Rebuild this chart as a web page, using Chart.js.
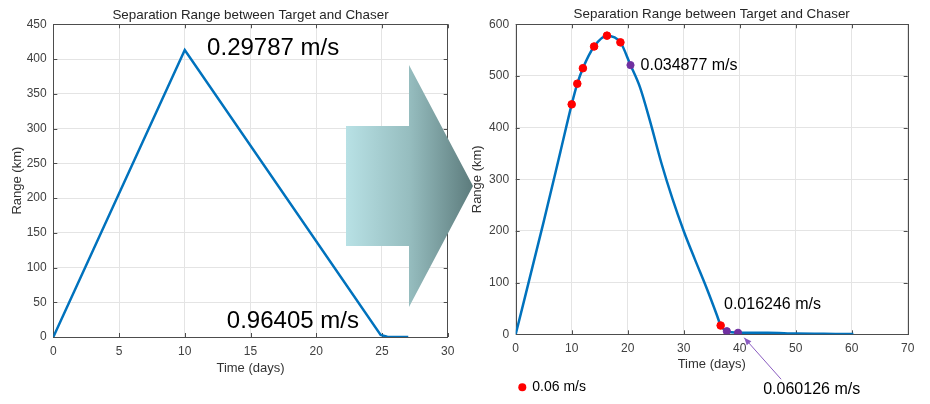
<!DOCTYPE html>
<html>
<head>
<meta charset="utf-8">
<script src="https://cdn.jsdelivr.net/npm/chart.js@4"></script>
<style>
  html, body { margin: 0; padding: 0; background: #fff; }
  #wrap  { position: relative; width: 930px; height: 404px; overflow: hidden; }
  #left  { position: absolute; left: 0;     top: 0; width: 470px; height: 404px; }
  #right { position: absolute; left: 465px; top: 0; width: 465px; height: 404px; }
  #arrow { position: absolute; left: 0; top: 0; pointer-events: none; }
</style>
</head>
<body>
<div id="wrap">
  <div id="left"><canvas id="chart-left"></canvas></div>
  <div id="right"><canvas id="chart-right"></canvas></div>
  <!-- flecha decorativa entre las dos gráficas -->
  <svg id="arrow" width="930" height="404">
    <defs>
      <linearGradient id="arrowGrad" x1="346" y1="0" x2="473" y2="0" gradientUnits="userSpaceOnUse">
        <stop offset="0"   stop-color="#b8e1e5"/>
        <stop offset="0.5" stop-color="#96bdbf"/>
        <stop offset="1"   stop-color="#5c7b7c"/>
      </linearGradient>
    </defs>
    <polygon fill="url(#arrowGrad)"
      points="346,126 409,126 409,65 473,186 409,307 409,246 346,246"/>
  </svg>
</div>

<script>
// ============================================================
//  Separation Range between Target and Chaser
//  - izquierda: transferencia en línea recta
//  - derecha: trayectoria con maniobras (puntos rojos / morados)
// ============================================================

// ---- Gráfica izquierda ----
const leftDays   = [0, 10, 24.9, 25.4, 26, 27];
const leftRange  = [0, 413, 3, 0.5, 0, 0];
const leftXTicks = [0, 5, 10, 15, 20, 25, 30];
const leftYTicks = [0, 50, 100, 150, 200, 250, 300, 350, 400, 450];
const leftNoteText = ['0.29787 m/s', '0.96405 m/s'];
const leftNoteDay  = [11.7, 13.2];
const leftNoteKm   = [415, 22];

// ---- Gráfica derecha ----
const rightDays  = [0, 5, 8, 10, 11, 12, 14, 16.3, 18.7, 20.5, 22.2, 24, 26, 28, 30, 32, 34, 36, 36.6, 37.7, 39.7, 45, 50, 55, 60.3];
const rightRange = [0, 218, 354, 445, 485, 515, 557, 578, 565, 521, 478, 412, 332, 262, 200, 145, 92, 35, 17, 6, 3, 3, 1.5, 1, 0.5];
const redDays    = [10, 11, 12, 14, 16.3, 18.7, 36.6];
const redRange   = [445, 485, 515, 557, 578, 565, 17];
const purpleDays  = [20.5, 37.7, 39.7];
const purpleRange = [521, 6, 3];
const rightXTicks = [0, 10, 20, 30, 40, 50, 60, 70];
const rightYTicks = [0, 100, 200, 300, 400, 500, 600];
const rightNoteText = ['0.034877 m/s', '0.016246 m/s', '0.060126 m/s'];
const rightNoteDay  = [22.3, 37.2, 44.2];
const rightNoteKm   = [520, 58, -107];

const AZUL   = '#0072BD';
const ROJO   = '#ff0000';
const MORADO = '#7030a0';

Chart.defaults.font.family = "'Liberation Sans', Arial, Helvetica, sans-serif";
Chart.defaults.animation = false;

const xy = (xs, ys) => xs.map((x, i) => ({ x, y: ys[i] }));

// caja del eje + marcas hacia adentro (estilo MATLAB)
const boxPlugin = {
  id: 'caja',
  beforeDatasetsDraw(chart) {
    const { ctx, chartArea: a, scales: { x, y } } = chart;
    ctx.save();
    ctx.strokeStyle = '#4d4d4d';
    ctx.lineWidth = 1;
    ctx.strokeRect(Math.round(a.left) + 0.5, Math.round(a.top) + 0.5,
                   Math.round(a.width), Math.round(a.height));
    ctx.beginPath();
    x.ticks.forEach(t => {
      const px = Math.round(x.getPixelForValue(t.value)) + 0.5;
      ctx.moveTo(px, a.bottom); ctx.lineTo(px, a.bottom - 4);
      ctx.moveTo(px, a.top);    ctx.lineTo(px, a.top + 4);
    });
    y.ticks.forEach(t => {
      const py = Math.round(y.getPixelForValue(t.value)) + 0.5;
      ctx.moveTo(a.left, py);  ctx.lineTo(a.left + 4, py);
      ctx.moveTo(a.right, py); ctx.lineTo(a.right - 4, py);
    });
    ctx.stroke();
    ctx.restore();
  }
};

// textos de velocidad, flecha morada y leyenda del punto rojo
const notesPlugin = {
  id: 'notas',
  afterDraw(chart, args, opts) {
    const { ctx, chartArea: a, scales: { x, y } } = chart;
    ctx.save();
    ctx.fillStyle = '#000';
    ctx.textAlign = 'left';
    ctx.textBaseline = 'middle';
    ctx.font = opts.size + "px 'Liberation Sans', Arial, sans-serif";
    opts.texts.forEach((t, i) => {
      ctx.fillText(t, x.getPixelForValue(opts.days[i]), y.getPixelForValue(opts.kms[i]));
    });

    if (opts.arrow) {
      const x0 = x.getPixelForValue(opts.arrow[0]), y0 = y.getPixelForValue(opts.arrow[1]);
      const x1 = x.getPixelForValue(opts.arrow[2]), y1 = y.getPixelForValue(opts.arrow[3]);
      const ang = Math.atan2(y1 - y0, x1 - x0);
      ctx.strokeStyle = '#8a5cc0';
      ctx.fillStyle = '#8a5cc0';
      ctx.lineWidth = 1;
      ctx.beginPath(); ctx.moveTo(x0, y0); ctx.lineTo(x1, y1); ctx.stroke();
      ctx.beginPath();
      ctx.moveTo(x1, y1);
      ctx.lineTo(x1 - 8 * Math.cos(ang - 0.4), y1 - 8 * Math.sin(ang - 0.4));
      ctx.lineTo(x1 - 8 * Math.cos(ang + 0.4), y1 - 8 * Math.sin(ang + 0.4));
      ctx.closePath(); ctx.fill();
    }

    if (opts.legend) {
      const ds = chart.data.datasets[opts.legend];
      const cy = a.bottom + 53;
      ctx.fillStyle = ds.backgroundColor;
      ctx.beginPath(); ctx.arc(a.left + 6.6, cy, 4, 0, Math.PI * 2); ctx.fill();
      ctx.fillStyle = '#000';
      ctx.font = "14px 'Liberation Sans', Arial, sans-serif";
      ctx.fillText(ds.label, a.left + 16.6, cy);
    }
    ctx.restore();
  }
};

function escalas(xTicks, yTicks, yWidth, xHeight, yTitlePad) {
  const grid = { color: '#e4e4e4', drawTicks: false, tickLength: 0 };
  const tickFont = { size: 12 };
  return {
    x: {
      type: 'linear',
      min: xTicks[0], max: xTicks[xTicks.length - 1],
      afterBuildTicks: s => { s.ticks = xTicks.map(v => ({ value: v })); },
      afterFit: s => { s.height = xHeight; },
      grid, border: { display: false },
      ticks: { padding: 7, color: '#404040', font: tickFont, maxRotation: 0, autoSkip: false },
      title: { display: true, text: 'Time (days)', color: '#333', font: { size: 13 }, padding: { top: 0, bottom: 0 } }
    },
    y: {
      type: 'linear',
      min: yTicks[0], max: yTicks[yTicks.length - 1],
      afterBuildTicks: s => { s.ticks = yTicks.map(v => ({ value: v })); },
      afterFit: s => { s.width = yWidth; },
      grid, border: { display: false },
      ticks: { padding: 6.6, color: '#404040', font: tickFont, autoSkip: false },
      title: { display: true, text: 'Range (km)', color: '#333', font: { size: 13 }, padding: { top: yTitlePad, bottom: 0 } }
    }
  };
}

function titulo(top, bottom) {
  return {
    display: true,
    text: 'Separation Range between Target and Chaser',
    color: '#262626',
    font: { size: 13.4, weight: 'normal' },
    fullSize: false,
    padding: { top, bottom }
  };
}

new Chart(document.getElementById('chart-left'), {
  type: 'scatter',
  data: {
    datasets: [{
      label: 'Range',
      data: xy(leftDays, leftRange),
      showLine: true,
      borderColor: AZUL,
      borderWidth: 2.5,
      pointRadius: 0,
      tension: 0
    }]
  },
  options: {
    responsive: true,
    maintainAspectRatio: false,
    layout: { padding: { left: 0, top: 0, right: 22.3, bottom: 27.9 } },
    scales: escalas(leftXTicks, leftYTicks, 53.3, 39.1, 10),
    plugins: {
      legend: { display: false },
      tooltip: { enabled: false },
      title: titulo(7, 1.2),
      notas: { size: 24, texts: leftNoteText, days: leftNoteDay, kms: leftNoteKm }
    }
  },
  plugins: [boxPlugin, notesPlugin]
});

new Chart(document.getElementById('chart-right'), {
  type: 'scatter',
  data: {
    datasets: [
      {
        label: 'Range',
        data: xy(rightDays, rightRange),
        showLine: true,
        borderColor: AZUL,
        borderWidth: 2.5,
        pointRadius: 0,
        cubicInterpolationMode: 'monotone',
        order: 3
      },
      {
        label: '0.06 m/s',
        data: xy(redDays, redRange),
        backgroundColor: ROJO,
        borderColor: ROJO,
        pointRadius: 3.8,
        order: 1
      },
      {
        label: 'otros',
        data: xy(purpleDays, purpleRange),
        backgroundColor: MORADO,
        borderColor: MORADO,
        pointRadius: 3.6,
        order: 2
      }
    ]
  },
  options: {
    responsive: true,
    maintainAspectRatio: false,
    layout: { padding: { left: 0, top: 0, right: 22.3, bottom: 32.2 } },
    scales: escalas(rightXTicks, rightYTicks, 50.7, 37.5, 5),
    plugins: {
      legend: { display: false },
      tooltip: { enabled: false },
      title: titulo(6, 2.2),
      notas: {
        size: 16, texts: rightNoteText, days: rightNoteDay, kms: rightNoteKm,
        arrow: [47.4, -87, 40.8, -6.6],
        legend: 1
      }
    }
  },
  plugins: [boxPlugin, notesPlugin]
});
</script>
</body>
</html>
